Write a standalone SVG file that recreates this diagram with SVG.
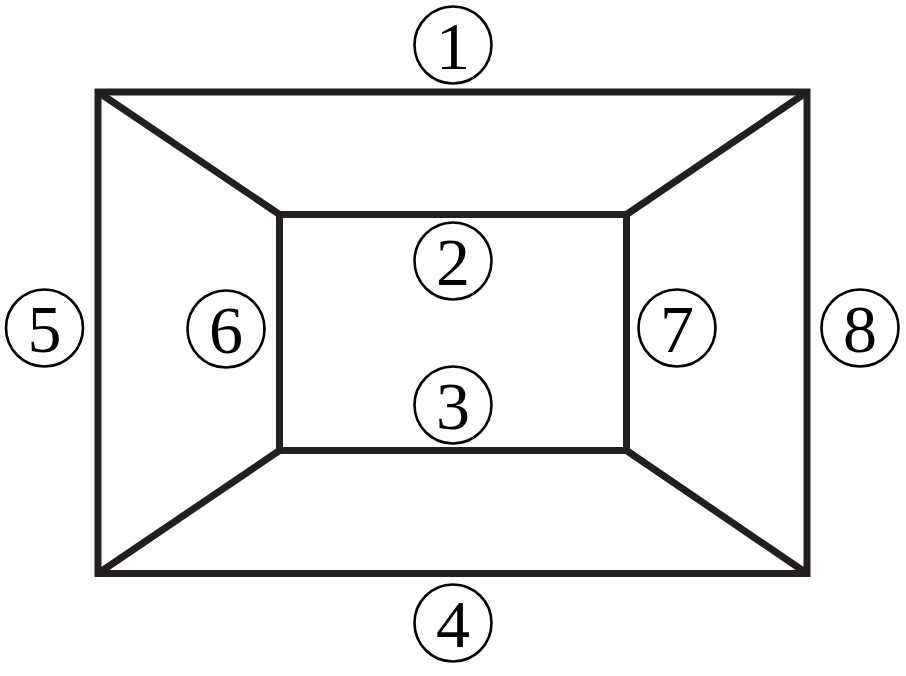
<svg xmlns="http://www.w3.org/2000/svg" width="906" height="676" viewBox="0 0 906 676">
<style>
.edge{stroke:#231f20;stroke-width:7;fill:none;stroke-linejoin:miter;stroke-linecap:square}
.ring{fill:none;stroke:#000;stroke-width:2.6}
.num{font-family:"Liberation Serif","DejaVu Serif",serif;font-size:68px;fill:#000;text-anchor:middle}
</style>
<rect width="906" height="676" fill="#fff"/>
<g id="connectors">
<rect class="edge" x="98" y="92" width="709" height="481.5"/>
<rect class="edge" x="279.5" y="214.5" width="347" height="236"/>
<line class="edge" x1="98" y1="92" x2="279.5" y2="214.5" style="stroke-linecap:butt"/>
<line class="edge" x1="807" y1="92" x2="626.5" y2="214.5" style="stroke-linecap:butt"/>
<line class="edge" x1="98" y1="573.5" x2="279.5" y2="450.5" style="stroke-linecap:butt"/>
<line class="edge" x1="807" y1="573.5" x2="626.5" y2="450.5" style="stroke-linecap:butt"/>
</g>
<g id="n1"><circle class="ring" cx="453" cy="45" r="38.5"/><text class="num" x="453" y="69">1</text></g>
<g id="n2"><circle class="ring" cx="453" cy="261" r="38.5"/><text class="num" x="453" y="285">2</text></g>
<g id="n3"><circle class="ring" cx="453" cy="405" r="38.5"/><text class="num" x="453" y="429">3</text></g>
<g id="n4"><circle class="ring" cx="453" cy="623" r="38.5"/><text class="num" x="453" y="647">4</text></g>
<g id="n5"><circle class="ring" cx="44.5" cy="328" r="38.5"/><text class="num" x="44.5" y="352">5</text></g>
<g id="n6"><circle class="ring" cx="226" cy="329" r="38.5"/><text class="num" x="226" y="353">6</text></g>
<g id="n7"><circle class="ring" cx="677" cy="328" r="38.5"/><text class="num" x="677" y="352">7</text></g>
<g id="n8"><circle class="ring" cx="860" cy="328" r="38.5"/><text class="num" x="860" y="352">8</text></g>
</svg>
